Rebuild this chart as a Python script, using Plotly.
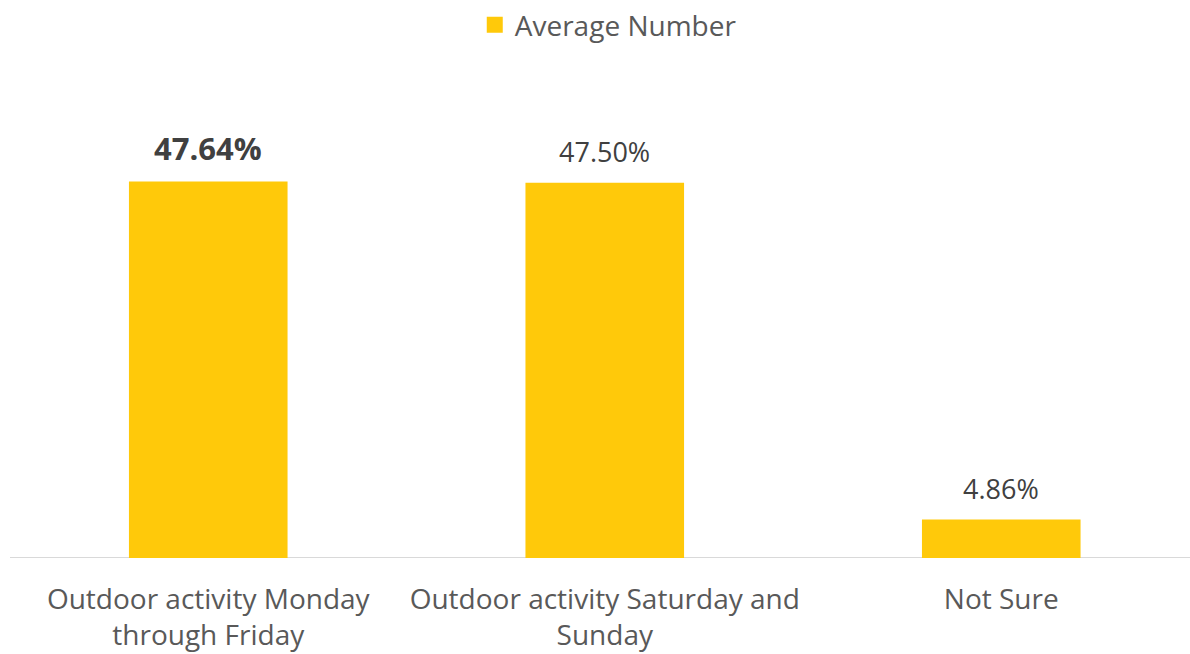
import plotly.graph_objects as go

categories = ["Outdoor activity Monday<br>through Friday",
              "Outdoor activity Saturday and<br>Sunday",
              "Not Sure"]
values = [47.64, 47.50, 4.86]
series_name = "Average Number"

BAR_COLOR = "#FFC90A"
TEXT_COLOR = "#404040"
TICK_COLOR = "#595959"
FONT = "Open Sans, Lato, sans-serif"

x_pos = list(range(len(categories)))

fig = go.Figure()
fig.add_trace(go.Bar(
    x=x_pos, y=values, name=series_name,
    marker=dict(color=BAR_COLOR, line=dict(width=0)),
    width=0.4, showlegend=False,
))
# legend entry with a larger square swatch
fig.add_trace(go.Scatter(
    x=[None], y=[None], mode="markers", name=series_name,
    marker=dict(symbol="square", size=18, color=BAR_COLOR),
    showlegend=True,
))

# value labels above each bar (first one emphasised)
for i, v in enumerate(values):
    label = f"{v:.2f}%"
    size = 27
    if i == 0:
        label = f"<b>{label}</b>"
        size = 31
    fig.add_annotation(x=x_pos[i], y=v, text=label, showarrow=False,
                       yanchor="bottom", yshift=11,
                       font=dict(family=FONT, size=size, color=TEXT_COLOR))

fig.update_layout(
    width=1190, height=654,
    margin=dict(l=10, r=0, t=100, b=96),
    paper_bgcolor="white", plot_bgcolor="white",
    font=dict(family=FONT, color=TICK_COLOR),
    legend=dict(orientation="h", x=0.507, xanchor="center", y=1.0,
                yref="container", yanchor="top", itemwidth=30,
                font=dict(size=28, color=TICK_COLOR, family=FONT)),
    xaxis=dict(range=[-0.5, 2.476], tickvals=x_pos, ticktext=categories,
               showgrid=False, zeroline=False, showline=False, ticks="",
               ticklabelstandoff=22,
               tickfont=dict(size=28, color=TICK_COLOR, family=FONT)),
    yaxis=dict(range=[0, 57.96], visible=False, showgrid=False, zeroline=False),
    bargap=0.6,
)

# baseline under the bars
fig.add_shape(type="line", xref="paper", yref="y", x0=0, x1=1, y0=0, y1=0,
              line=dict(color="#D9D9D9", width=2), layer="below")

fig.write_html("out.html")
